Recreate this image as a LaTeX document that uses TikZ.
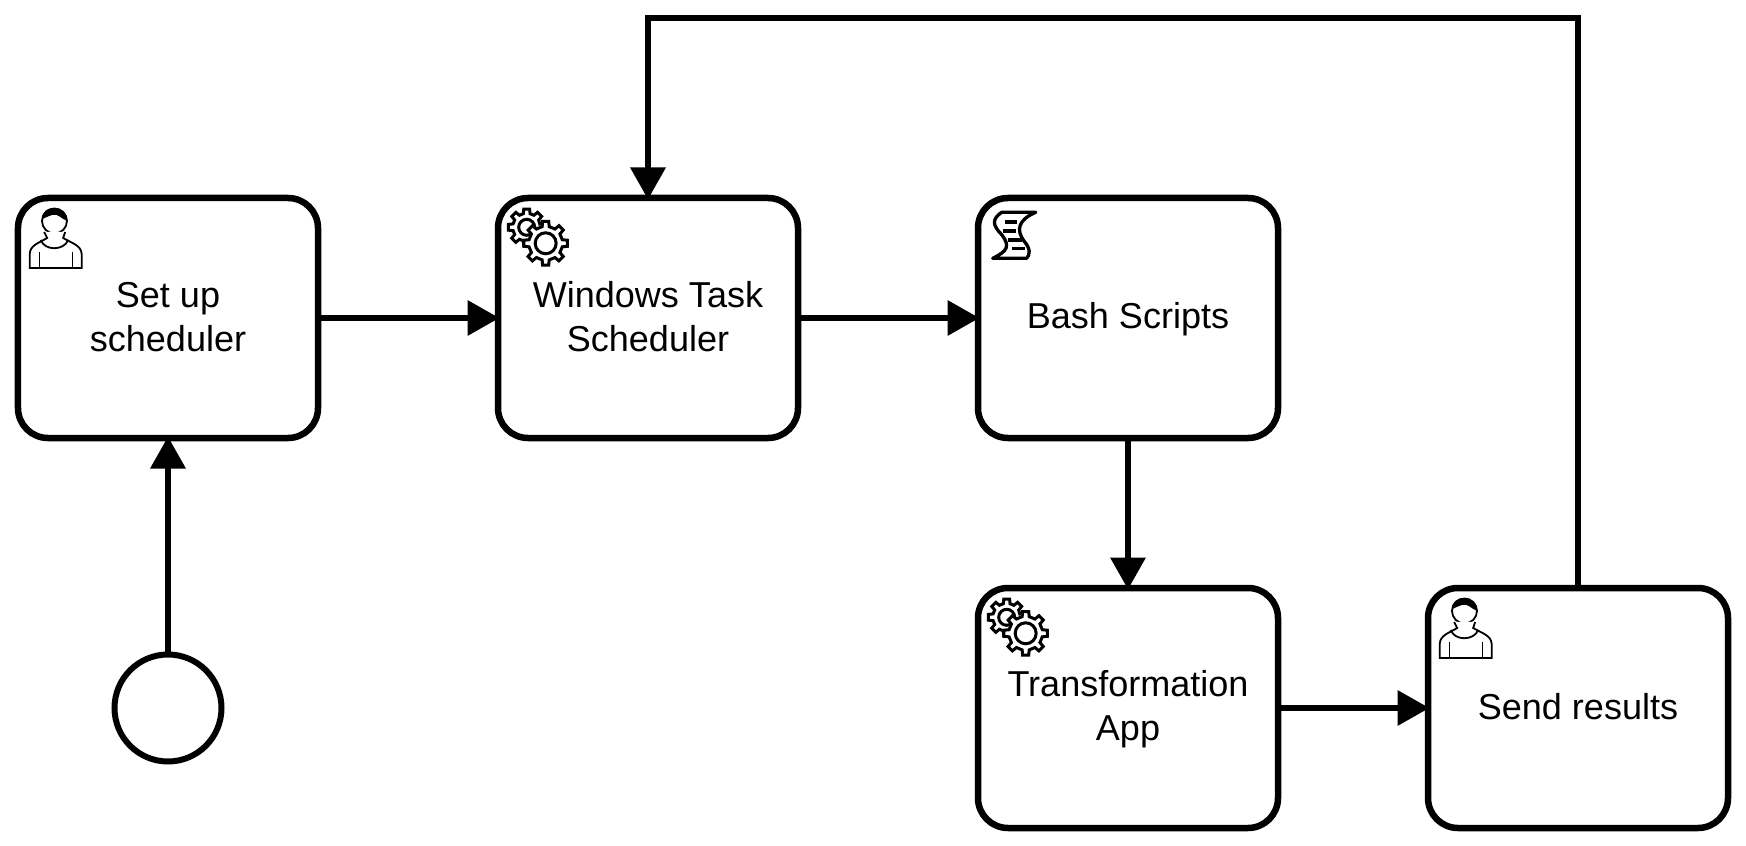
\documentclass[tikz,border=0pt]{standalone}
\usepackage{fontspec}
\setmainfont{Liberation Sans}
\usetikzlibrary{arrows.meta,positioning}
\newcommand{\linestrut}{\rule[-1.6pt]{0pt}{9.9pt}}
\tikzset{
  taskbox/.style = {draw, line width=0.065cm, rounded corners=0.3cm, minimum width=3cm, minimum height=2.4cm,
    inner sep=0pt, outer sep=0pt, align=center, font=\fontsize{10.25}{12.5}\selectfont},
  startevent/.style = {circle, draw, line width=0.06cm, minimum size=1.07cm, inner sep=0pt, outer sep=0pt},
  flowedge/.style = {line width=0.065cm, shorten >=-0.015cm, -{Triangle[length=0.32cm, width=0.34cm]}},
  usericon/.pic = {
    \begin{scope}[x=0.01cm, y=-0.01cm, xshift=0.012cm, line width=0.018cm]
      \draw (35.3,23) circle[radius=12.5];
      \fill (23,21) .. controls (22,6) and (49,6) .. (48,23) .. controls (42,21) and (39,15) .. (33,17) .. controls (29,18) and (26,20) .. (23,21) -- cycle;
      \draw[fill=white] (25,34) -- (28,40) .. controls (20,45) and (11,47) .. (10.5,56) -- (10.5,70) -- (62.5,70) -- (62.5,56) .. controls (62,47) and (52,45) .. (44,40) -- (46,34);
      \draw (21.7,42) .. controls (25,53) and (45,53) .. (49,42);
      \draw (20.3,54) -- (20.3,70) (53.3,54) -- (53.3,70);
    \end{scope}
  },
  gearicon/.pic = {
    \begin{scope}[x=0.01cm, y=-0.01cm, line width=0.03cm]
      % rear gear
      \draw[fill=white] (28.7,29.3) +(-14:13.5)
        \foreach \ang in {0,45,...,315} { -- +(\ang-14:14) -- +(\ang-9:18.5) -- +(\ang+9:18.5) -- +(\ang+14:14) } -- cycle;
      \draw (28.7,29.3) circle[radius=8];
      % front gear
      \draw[fill=white] (47.7,45.3) +(-12:17)
        \foreach \ang in {0,45,...,315} { -- +(\ang-12:17) -- +(\ang-8:22) -- +(\ang+8:22) -- +(\ang+12:17) } -- cycle;
      \draw (47.7,45.3) circle[radius=10.5];
    \end{scope}
  },
  scripticon/.pic = {
    \begin{scope}[x=0.01cm, y=-0.01cm, line width=0.033cm, line join=round]
      \draw (23.7,14.3) -- (57.7,14.3) .. controls (40,22) and (38,32) .. (46,43) .. controls (53,51) and (52,57) .. (48.7,60.3)
        -- (14.7,60.3) .. controls (30,53) and (32,48) .. (24,37) .. controls (14,27) and (14,21) .. (23.7,14.3) -- cycle;
      \draw (27,24) -- (39,24) (25.5,33) -- (38,33) (30.5,42) -- (44.5,42) (34,50.7) -- (47,50.7);
    \end{scope}
  },
}
\begin{document}
\begin{tikzpicture}

\useasboundingbox (0,0) rectangle (17.46,-8.46);

% Upper row
\node[taskbox] (setup) at (1.68,-3.18) {\linestrut Set up\\scheduler\linestrut};
\node[taskbox] (sched) at (6.48,-3.18) {\linestrut Windows Task\\Scheduler\linestrut};
\node[taskbox] (bash) at (11.28,-3.18) {\linestrut Bash Scripts};

% Lower row
\node[startevent] (start) at (1.68,-7.08) {};
\node[taskbox] (transform) at (11.28,-7.08) {\linestrut Transformation\\App\linestrut};
\node[taskbox] (send) at (15.78,-7.08) {\linestrut Send results};

% Task markers
\pic at (setup.north west) {usericon};
\pic at (sched.north west) {gearicon};
\pic at (bash.north west) {scripticon};
\pic at (transform.north west) {gearicon};
\pic at (send.north west) {usericon};

% Flows
\coordinate (loopleft) at (6.48,-0.18);
\coordinate (loopright) at (15.78,-0.18);
\draw[flowedge] (start) -- (setup);
\draw[flowedge] (setup) -- (sched);
\draw[flowedge] (sched) -- (bash);
\draw[flowedge] (bash) -- (transform);
\draw[flowedge] (transform) -- (send);
\draw[flowedge] (send.north) -- (loopright) -- (loopleft) -- (sched.north);

\end{tikzpicture}
\end{document}
